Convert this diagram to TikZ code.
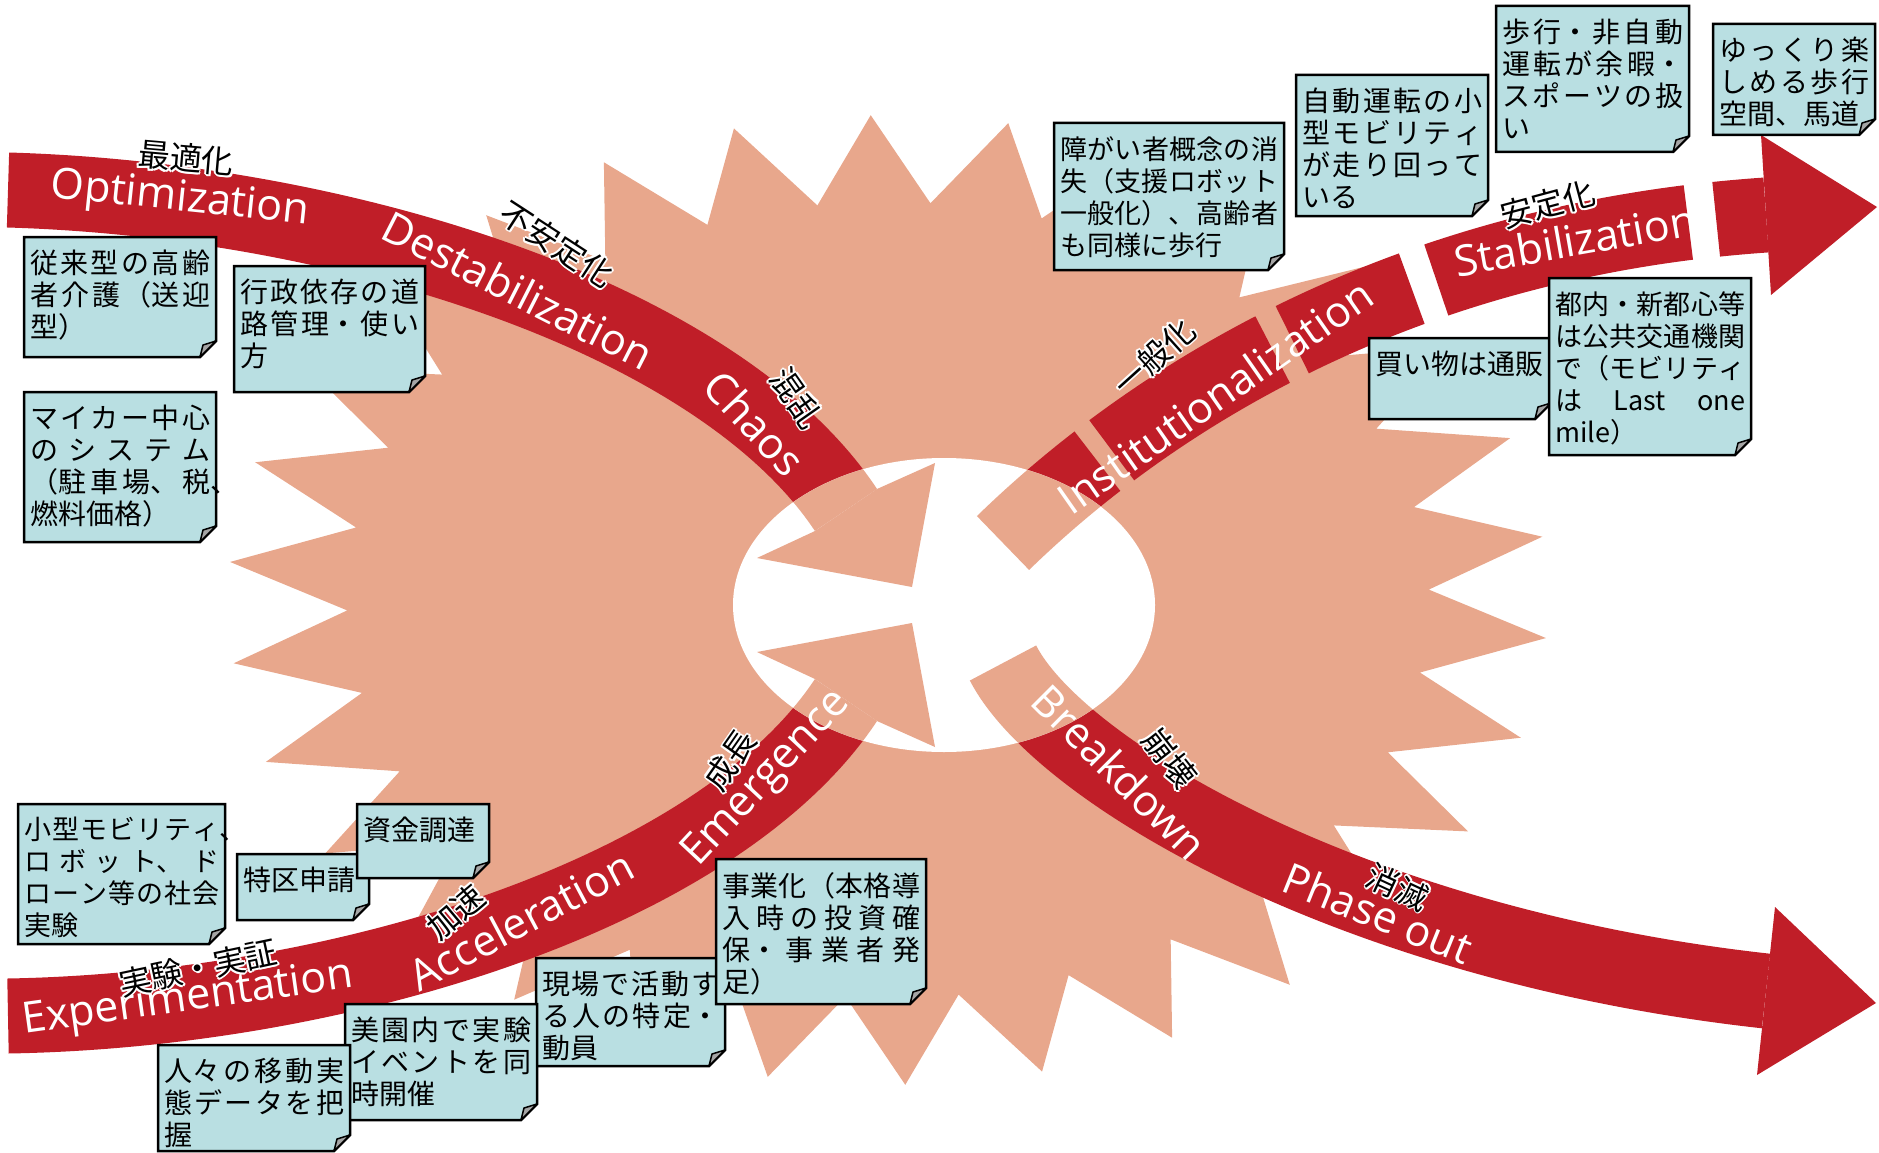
\documentclass[tikz,border=0pt]{standalone}
\usepackage{fontspec}
\setmainfont{Open Sans}
\newfontfamily\cjk{Noto Sans CJK JP}
\definecolor{bandred}{RGB}{192,30,40}
\definecolor{salmon}{RGB}{232,167,140}
\definecolor{notefill}{RGB}{185,223,226}
\definecolor{foldgray}{RGB}{165,165,165}
\newcommand\notefont[1]{\cjk\fontsize{#1}{32}\selectfont\XeTeXlinebreaklocale "ja"\XeTeXlinebreakskip=0pt plus 40pt\relax}
\newcommand\hlx[3]{\rlap{\kern#1\raisebox{#2}{\color{white}#3}}}
\newcommand\halo[1]{\hlx{-2pt}{0pt}{#1}\hlx{2pt}{0pt}{#1}\hlx{0pt}{2pt}{#1}\hlx{0pt}{-2pt}{#1}\hlx{-1.4pt}{1.4pt}{#1}\hlx{1.4pt}{1.4pt}{#1}\hlx{-1.4pt}{-1.4pt}{#1}\hlx{1.4pt}{-1.4pt}{#1}#1}
\tikzset{
  bandpath/.style={line width=75pt, line cap=butt},
  bandlabel/.style={text=white, font=\fontsize{43}{43}\selectfont, inner sep=0pt},
  jlabel/.style={text=black, font=\cjk\fontsize{32}{32}\selectfont, inner sep=0pt},
  notebox/.style={fill=notefill, draw=black, line width=2.5pt, line join=miter},
  notefold/.style={fill=foldgray, draw=black, line width=1.5pt, line join=round},
  notetext/.style={anchor=north west, inner sep=0pt, align=justify, text=black},
  instdash/.style={dash pattern=on 125pt off 18pt on 190pt off 22pt on 130pt off 26pt on 259pt off 28pt on 400pt off 1pt}
}
\newcommand\stickynote[7][28]{%
  \pgfmathsetmacro\notew{#5-#3-12}%
  \draw[notebox] (#3,#4) -- (#5,#4) -- (#5,#6-16) -- (#5-16,#6) -- (#3,#6) -- cycle;
  \draw[notefold] (#5,#6-16) -- (#5-16,#6) -- (#5-13,#6-12) -- cycle;
  \node[notetext, text width=\notew pt, font=\notefont{#1}] (#2) at (#3+6,#4+13) {#7};
}
\begin{document}
\begin{tikzpicture}[x=1pt,y=-1pt]
\useasboundingbox (0,0) rectangle (1879,1153);
% starburst
\begin{scope}[shift={(888,600)}]
\fill[salmon] ({660*cos(4.5)},{485*sin(4.5)}) \foreach \k in {0,...,29}{ -- ({541*cos(10.5+12*\k)},{398*sin(10.5+12*\k)}) -- ({660*cos(16.5+12*\k)},{485*sin(16.5+12*\k)}) } -- cycle;
\end{scope}
% band end points
\coordinate (aS) at (8,190);   \coordinate (aE) at (846,510);
\coordinate (bS) at (8,1016);  \coordinate (bE) at (846,700);
\coordinate (cS) at (1003,663); \coordinate (cE) at (1766,991);
\coordinate (dS) at (1003,543); \coordinate (dE) at (1766,215);
% red bands
\draw[bandpath, bandred] (aS) .. controls (350,200) and (720,320) .. (aE);
\draw[bandpath, bandred] (bS) .. controls (350,1010) and (720,890) .. (bE);
\draw[bandpath, bandred] (cS) .. controls (1058,770) and (1350,945) .. (cE);
\draw[bandpath, bandred, instdash] (dS) .. controls (1150,400) and (1400,240) .. (dE);
\fill[bandred] (815,531) -- (757,558) -- (912,587) -- (935,463) -- (877,489) -- cycle;
\fill[bandred] (815,679) -- (757,652) -- (912,623) -- (935,747) -- (877,721) -- cycle;
\fill[bandred] (1775,907) -- (1876,1003) -- (1757,1075) -- cycle;
\fill[bandred] (1761,135) -- (1877,207) -- (1771,295) -- cycle;
% central ellipse
\begin{scope}
\clip (944,605) ellipse [x radius=211pt, y radius=147pt];
\fill[white] (700,440) rectangle (1180,770);
\draw[bandpath, salmon] (aS) .. controls (350,200) and (720,320) .. (aE);
\draw[bandpath, salmon] (bS) .. controls (350,1010) and (720,890) .. (bE);
\draw[bandpath, salmon] (cS) .. controls (1058,770) and (1350,945) .. (cE);
\draw[bandpath, salmon, instdash] (dS) .. controls (1150,400) and (1400,240) .. (dE);
\fill[salmon] (815,531) -- (757,558) -- (912,587) -- (935,463) -- (877,489) -- cycle;
\fill[salmon] (815,679) -- (757,652) -- (912,623) -- (935,747) -- (877,721) -- cycle;
\end{scope}
% band labels
\node[bandlabel, rotate=-6] (tOpt) at (180,200) {Optimization};
\node[bandlabel, rotate=-27] (tDes) at (518,290) {Destabilization};
\node[bandlabel, rotate=-47] (tCha) at (755,423) {Chaos};
\node[bandlabel, rotate=8] (tExp) at (188,1000) {Experimentation};
\node[bandlabel, rotate=28] (tAcc) at (521,920) {Acceleration};
\node[bandlabel, rotate=47] (tEme) at (767,779) {Emergence};
\node[bandlabel, rotate=-45] (tBre) at (1120,772) {Breakdown};
\node[bandlabel, rotate=-22] (tPha) at (1378,913) {Phase out};
\node[bandlabel, rotate=35] (tIns) at (1215,396) {Institutionalization};
\node[bandlabel, rotate=10] (tSta) at (1575,240) {Stabilization};
\node[jlabel, rotate=-5] (jOpt) at (186,158) {\halo{最適化}};
\node[jlabel, rotate=-33] (jDes) at (557,244) {\halo{不安定化}};
\node[jlabel, rotate=-55] (jCha) at (797,398) {\halo{混乱}};
\node[jlabel, rotate=12] (jExp) at (198,968) {\halo{実験・実証}};
\node[jlabel, rotate=40] (jAcc) at (456,912) {\halo{加速}};
\node[jlabel, rotate=55] (jEme) at (730,760) {\halo{成長}};
\node[jlabel, rotate=-52] (jBre) at (1170,758) {\halo{崩壊}};
\node[jlabel, rotate=-25] (jPha) at (1398,887) {\halo{消滅}};
\node[jlabel, rotate=42] (jIns) at (1154,357) {\halo{一般化}};
\node[jlabel, rotate=15] (jSta) at (1548,204) {\halo{安定化}};
% sticky notes
\stickynote{n1}{24}{237}{216}{357}{従来型の高齢\linebreak 者介護（送迎\linebreak 型）}
\stickynote{n2}{234}{266}{425}{392}{行政依存の道\linebreak 路管理・使い\linebreak 方}
\stickynote{n3}{24}{392}{216}{542}{マイカー中心\linebreak のシステム\linebreak （駐車場、税\rlap{、}\linebreak 燃料価格）}
\stickynote[27]{n4}{1054}{123}{1284}{270}{障がい者概念の消\linebreak 失（支援ロボット\linebreak 一般化）、高齢者\linebreak も同様に歩行}
\stickynote{n5}{1296}{75}{1488}{216}{自動運転の小\linebreak 型モビリティ\linebreak が走り回って\linebreak いる}
\stickynote{n6}{1496}{6}{1689}{152}{歩行・非自動\linebreak 運転が余暇・\linebreak スポーツの扱\linebreak い}
\stickynote{n7}{1713}{24}{1875}{135}{ゆっくり楽\linebreak しめる歩行\linebreak 空間、馬道}
\stickynote{n8}{1369}{338}{1551}{419}{買い物は通販}
\stickynote[27]{n9}{1549}{278}{1751}{455}{都内・新都心等\linebreak は公共交通機関\linebreak で（モビリティ\linebreak は Last one\linebreak mile）}
\stickynote[27]{n10}{18}{804}{225}{944}{小型モビリティ\rlap{、}\linebreak ロボット、ド\linebreak ローン等の社会\linebreak 実験}
\stickynote{n11}{237}{854}{369}{920}{特区申請}
\stickynote{n12}{357}{804}{489}{878}{資金調達}
\stickynote{n14}{536}{958}{725}{1066}{現場で活動す\linebreak る人の特定・\linebreak 動員}
\stickynote{n13}{716}{859}{926}{1004}{事業化（本格導\linebreak 入時の投資確\linebreak 保・事業者発\linebreak 足）}
\stickynote{n15}{345}{1004}{537}{1120}{美園内で実験\linebreak イベントを同\linebreak 時開催}
\stickynote{n16}{158}{1045}{350}{1151}{人々の移動実\linebreak 態データを把\linebreak 握}
\end{tikzpicture}
\end{document}
